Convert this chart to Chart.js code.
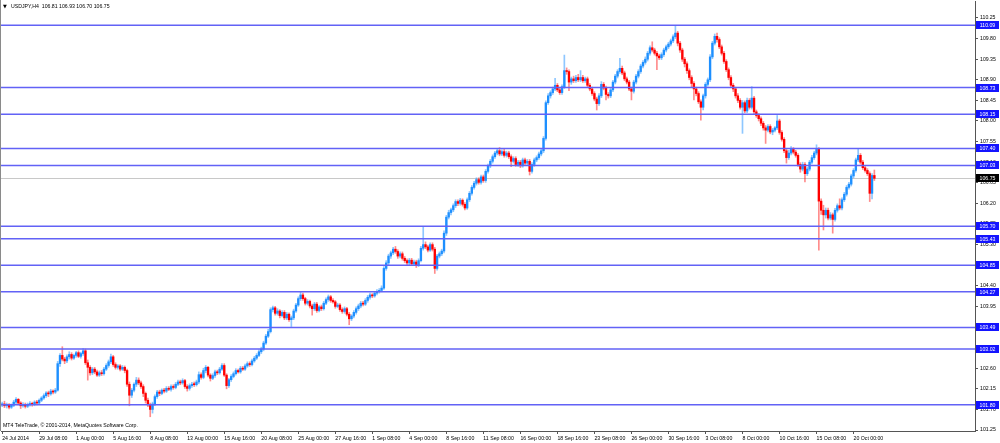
<!DOCTYPE html>
<html lang="en">
<head>
  <meta charset="UTF-8">
  <title>USDJPY,H4</title>
  <script src="https://cdn.jsdelivr.net/npm/chart.js"></script>
  <style>
    body {
      margin: 0;
      padding: 0;
      background: #fff;
    }
    canvas {
      display: block;
    }
  </style>
</head>
<body>
<canvas id="priceChart" width="1000" height="443"></canvas>

<script>
  // H4 bars starting 24 Jul 2014 16:00
  var closes = [
    101.82,101.78,101.80,101.75,101.79,101.86,101.92,101.84,101.78,101.81,
    101.77,101.80,101.83,101.81,101.86,101.84,101.90,101.95,102.00,102.06,
    102.04,102.10,102.08,102.12,102.70,102.88,102.80,102.76,102.85,102.90,
    102.82,102.88,102.94,102.86,102.92,102.98,102.72,102.62,102.50,102.58,
    102.52,102.45,102.50,102.48,102.58,102.66,102.74,102.85,102.68,102.62,
    102.65,102.58,102.62,102.55,102.25,102.01,102.12,102.25,102.34,102.28,
    102.20,102.05,101.90,101.80,101.70,101.82,101.98,102.08,102.05,102.12,
    102.10,102.16,102.14,102.20,102.18,102.25,102.30,102.28,102.33,102.20,
    102.16,102.22,102.25,102.24,102.30,102.46,102.40,102.55,102.62,102.45,
    102.38,102.44,102.52,102.50,102.58,102.66,102.45,102.22,102.35,102.42,
    102.48,102.55,102.52,102.60,102.58,102.65,102.70,102.68,102.76,102.82,
    102.88,102.96,103.02,103.15,103.30,103.40,103.88,103.92,103.80,103.85,
    103.75,103.82,103.70,103.78,103.66,103.70,103.85,103.98,104.12,104.20,
    104.12,104.02,104.06,103.96,103.90,104.00,103.86,103.94,103.90,104.02,
    104.10,104.16,104.08,104.05,103.95,103.98,103.88,103.84,103.90,103.78,
    103.68,103.74,103.82,103.90,103.96,104.02,104.00,104.08,104.15,104.20,
    104.18,104.24,104.28,104.30,104.35,104.78,104.90,105.05,105.12,105.20,
    105.15,105.05,105.10,105.00,104.95,104.90,104.96,104.88,104.92,104.85,
    104.95,105.22,105.30,105.25,105.18,105.30,105.20,104.78,105.05,105.10,
    105.16,105.55,105.90,106.00,106.06,106.15,106.24,106.20,106.27,106.18,
    106.10,106.28,106.42,106.55,106.64,106.72,106.66,106.78,106.70,106.90,
    107.02,107.12,107.22,107.30,107.35,107.28,107.33,107.25,107.30,107.22,
    107.12,107.18,107.05,107.10,107.02,107.15,107.08,107.12,106.90,107.05,
    107.15,107.20,107.28,107.35,107.62,108.40,108.55,108.62,108.70,108.78,
    108.68,108.62,108.75,109.10,109.08,108.85,108.92,108.88,108.95,108.90,
    108.95,108.88,108.92,108.78,108.70,108.60,108.48,108.38,108.55,108.80,
    108.72,108.58,108.55,108.68,108.85,108.98,109.08,109.15,109.05,108.92,
    108.85,108.70,108.65,108.85,108.98,109.08,109.20,109.28,109.35,109.48,
    109.60,109.55,109.48,109.42,109.38,109.45,109.55,109.62,109.68,109.75,
    109.84,109.92,109.70,109.55,109.35,109.25,109.10,108.95,108.82,108.70,
    108.60,108.42,108.30,108.55,108.80,108.90,109.40,109.70,109.85,109.78,
    109.62,109.48,109.30,109.12,108.95,108.78,108.70,108.55,108.45,108.30,
    108.40,108.22,108.45,108.30,108.50,108.20,108.12,108.05,107.95,107.85,
    107.80,107.88,107.76,107.80,107.85,108.00,107.75,107.60,107.35,107.20,
    107.30,107.38,107.32,107.25,107.05,106.95,107.05,106.85,106.95,107.10,
    107.20,107.30,107.38,106.25,106.05,105.95,106.05,105.88,105.95,105.85,
    106.05,106.15,106.10,106.28,106.40,106.55,106.62,106.80,106.92,107.15,
    107.25,107.10,106.98,106.92,106.85,106.42,106.81,106.75
  ];

  var highs = [
    101.86,101.88,101.84,101.83,101.82,101.90,101.96,101.94,101.87,101.85,
    101.84,101.84,101.87,101.86,101.89,101.90,101.93,101.98,102.04,102.09,
    102.10,102.14,102.13,102.16,102.75,102.92,103.07,102.84,102.89,102.96,
    102.94,102.91,102.97,102.98,102.95,103.03,103.02,102.78,102.66,102.62,
    102.62,102.56,102.54,102.55,102.62,102.70,102.78,102.91,102.88,102.72,
    102.68,102.68,102.66,102.65,102.58,102.30,102.16,102.28,102.40,102.39,
    102.32,102.24,102.08,101.95,101.84,101.86,102.02,102.12,102.12,102.15,
    102.16,102.20,102.20,102.24,102.24,102.29,102.34,102.34,102.37,102.36,
    102.24,102.26,102.29,102.30,102.34,102.52,102.50,102.60,102.66,102.64,
    102.48,102.48,102.56,102.56,102.62,102.70,102.70,102.48,102.38,102.46,
    102.52,102.59,102.58,102.64,102.64,102.69,102.74,102.74,102.80,102.86,
    102.92,103.00,103.06,103.19,103.34,103.45,103.92,103.96,103.95,103.90,
    103.88,103.86,103.86,103.82,103.81,103.74,103.89,104.02,104.16,104.27,
    104.24,104.15,104.10,104.09,104.00,104.04,104.04,103.97,103.98,104.06,
    104.14,104.20,104.19,104.12,104.08,104.02,104.01,103.92,103.94,103.93,
    103.82,103.77,103.86,103.94,104.00,104.06,104.06,104.12,104.19,104.24,
    104.23,104.28,104.32,104.34,104.40,104.82,104.95,105.09,105.16,105.24,
    105.26,105.19,105.14,105.14,105.04,104.99,105.00,105.00,104.96,104.96,
    104.99,105.26,105.69,105.36,105.29,105.34,105.34,105.24,105.09,105.14,
    105.20,105.60,105.94,106.05,106.10,106.19,106.28,106.28,106.31,106.30,
    106.22,106.32,106.46,106.59,106.68,106.76,106.76,106.82,106.82,106.94,
    107.06,107.16,107.26,107.34,107.40,107.42,107.37,107.40,107.34,107.34,
    107.26,107.22,107.22,107.14,107.14,107.19,107.19,107.16,107.16,107.09,
    107.19,107.24,107.32,107.39,107.66,108.44,108.60,108.66,108.74,108.93,
    108.82,108.72,108.79,109.44,109.16,109.12,108.96,108.98,109.00,109.02,
    109.10,109.00,108.96,108.96,108.82,108.74,108.64,108.52,108.60,108.86,
    108.84,108.76,108.62,108.72,108.89,109.02,109.12,109.37,109.20,109.09,
    108.96,108.89,108.74,108.89,109.02,109.12,109.24,109.32,109.40,109.52,
    109.64,109.73,109.59,109.52,109.46,109.49,109.59,109.66,109.72,109.79,
    109.88,110.08,109.96,109.74,109.59,109.39,109.29,109.14,108.99,108.86,
    108.74,108.64,108.46,108.59,108.84,108.94,109.45,109.74,109.90,109.92,
    109.82,109.66,109.52,109.34,109.16,108.99,108.82,108.74,108.60,108.49,
    108.45,108.44,108.50,108.49,108.75,108.54,108.24,108.16,108.09,107.99,
    107.90,107.92,107.92,107.84,107.88,108.12,108.04,107.79,107.64,107.39,
    107.36,107.44,107.42,107.36,107.29,107.09,107.10,107.09,106.99,107.14,
    107.25,107.34,107.48,107.42,106.30,106.16,106.10,106.10,106.00,105.99,
    106.09,106.19,106.30,106.32,106.44,106.59,106.66,106.84,106.96,107.19,
    107.40,107.29,107.14,107.02,106.96,106.89,106.85,106.93
  ];

  var lows = [
    101.76,101.74,101.73,101.71,101.72,101.76,101.82,101.80,101.72,101.75,
    101.73,101.74,101.77,101.77,101.78,101.80,101.81,101.87,101.92,101.96,
    101.98,102.01,102.04,102.05,102.10,102.64,102.76,102.70,102.72,102.80,
    102.78,102.79,102.84,102.83,102.82,102.88,102.68,102.34,102.45,102.46,
    102.48,102.42,102.42,102.44,102.45,102.55,102.62,102.70,102.64,102.58,
    102.58,102.54,102.55,102.50,102.20,101.78,101.96,102.08,102.20,102.24,
    102.16,101.98,101.84,101.76,101.54,101.62,101.78,101.94,102.00,102.02,
    102.06,102.07,102.11,102.10,102.14,102.15,102.22,102.24,102.25,102.16,
    102.10,102.12,102.18,102.20,102.21,102.26,102.36,102.37,102.50,102.41,
    102.32,102.35,102.40,102.46,102.47,102.55,102.42,102.15,102.18,102.31,
    102.39,102.45,102.49,102.49,102.55,102.55,102.62,102.64,102.65,102.73,
    102.79,102.85,102.92,102.98,103.12,103.27,103.37,103.83,103.76,103.76,
    103.70,103.72,103.66,103.66,103.62,103.51,103.66,103.82,103.95,104.08,
    104.08,103.98,103.98,103.92,103.76,103.86,103.82,103.83,103.86,103.87,
    103.99,104.06,104.04,104.02,103.91,103.92,103.84,103.80,103.80,103.74,
    103.55,103.64,103.70,103.78,103.86,103.92,103.96,103.97,104.04,104.11,
    104.14,104.15,104.20,104.24,104.27,104.32,104.74,104.86,105.00,105.08,
    105.11,105.00,105.01,104.96,104.91,104.86,104.86,104.84,104.84,104.80,
    104.82,104.92,105.18,105.21,105.14,105.15,105.16,104.67,104.74,105.01,
    105.06,105.12,105.50,105.86,105.95,106.02,106.11,106.15,106.16,106.14,
    106.06,106.07,106.24,106.38,106.51,106.60,106.62,106.62,106.66,106.66,
    106.86,106.98,107.08,107.18,107.26,107.24,107.24,107.21,107.21,107.18,
    107.00,107.08,107.01,107.01,106.98,106.99,107.04,107.04,106.82,106.86,
    107.01,107.11,107.16,107.24,107.31,107.58,108.36,108.50,108.58,108.66,
    108.64,108.58,108.58,108.71,109.02,108.66,108.80,108.84,108.84,108.86,
    108.86,108.84,108.84,108.74,108.66,108.56,108.44,108.24,108.34,108.51,
    108.68,108.46,108.50,108.51,108.64,108.81,108.94,109.04,109.01,108.88,
    108.81,108.66,108.46,108.61,108.81,108.94,109.04,109.16,109.24,109.31,
    109.44,109.51,109.44,109.12,109.34,109.34,109.41,109.51,109.58,109.64,
    109.71,109.80,109.64,109.50,109.30,109.18,109.04,108.90,108.74,108.46,
    108.55,108.38,108.02,108.24,108.50,108.76,108.86,109.36,109.66,109.72,
    109.58,109.44,109.26,109.08,108.90,108.74,108.64,108.50,108.40,108.26,
    107.73,108.18,108.18,108.26,108.26,108.16,108.08,108.00,107.90,107.80,
    107.51,107.76,107.72,107.70,107.76,107.81,107.71,107.56,107.31,107.08,
    107.16,107.26,107.28,107.21,107.01,106.88,106.91,106.67,106.81,106.91,
    107.06,107.16,107.26,105.18,105.96,105.62,105.88,105.84,105.84,105.55,
    105.81,106.01,106.06,106.06,106.24,106.36,106.51,106.58,106.76,106.88,
    107.11,107.06,106.94,106.88,106.81,106.24,106.30,106.70
  ];

  var firstOpen = 101.80;

  // one time label every 16 bars
  var timeLabels = [
    '24 Jul 2014', '29 Jul 08:00', '1 Aug 00:00', '5 Aug 16:00', '8 Aug 08:00',
    '13 Aug 00:00', '15 Aug 16:00', '20 Aug 08:00', '25 Aug 00:00', '27 Aug 16:00',
    '1 Sep 08:00', '4 Sep 00:00', '8 Sep 16:00', '11 Sep 08:00', '16 Sep 00:00',
    '18 Sep 16:00', '23 Sep 08:00', '26 Sep 00:00', '30 Sep 16:00', '3 Oct 08:00',
    '8 Oct 00:00', '10 Oct 16:00', '15 Oct 08:00', '20 Oct 00:00'
  ];

  var priceTicks = [
    101.25, 101.70, 102.15, 102.60, 103.05, 103.50, 103.95, 104.40, 104.85, 105.30,
    105.75, 106.20, 106.65, 107.10, 107.55, 108.00, 108.45, 108.90, 109.35, 109.80, 110.25
  ];

  var levels = [110.09, 108.73, 108.15, 107.40, 107.03, 105.70, 105.43, 104.85, 104.27, 103.49, 103.02, 101.80];
  var lastPrice = 106.75;
  var headerText = 'USDJPY,H4  106.81 106.93 106.70 106.75';
  var footerText = 'MT4 TeleTrade, \u00a9 2001-2014, MetaQuotes Software Corp.';

  var slots = 421; // bars plus empty space on the right
  var fontFamily = '"Liberation Sans", Arial, sans-serif';
  var smallFont = '5.2px ' + fontFamily;

  // open of each H4 bar is the previous close
  var opens = closes.map(function (c, i) { return i === 0 ? firstOpen : closes[i - 1]; });
  var isUp = closes.map(function (c, i) { return c >= opens[i]; });

  var categories = [];
  for (var i = 0; i < slots; i++) {
    categories.push(i % 16 === 0 && timeLabels[i / 16] ? timeLabels[i / 16] : '');
  }

  var overlay = {
    id: 'overlay',
    beforeDatasetsDraw: function (chart) {
      var ctx = chart.ctx, area = chart.chartArea;
      var y = Math.round(chart.scales.y.getPixelForValue(lastPrice)) + 0.5;
      ctx.save();
      ctx.strokeStyle = '#c8c8c8';
      ctx.lineWidth = 1;
      ctx.beginPath();
      ctx.moveTo(area.left, y);
      ctx.lineTo(area.right, y);
      ctx.stroke();
      ctx.restore();
    },
    afterDatasetsDraw: function (chart) {
      var ctx = chart.ctx, area = chart.chartArea;
      ctx.save();
      ctx.strokeStyle = '#6262f6';
      ctx.lineWidth = 1.5;
      levels.forEach(function (lv) {
        var y = chart.scales.y.getPixelForValue(lv);
        ctx.beginPath();
        ctx.moveTo(area.left, y);
        ctx.lineTo(area.right, y);
        ctx.stroke();
      });
      ctx.restore();
    },
    afterDraw: function (chart) {
      var ctx = chart.ctx, area = chart.chartArea, yScale = chart.scales.y;
      ctx.save();
      ctx.font = smallFont;
      ctx.textAlign = 'center';
      ctx.textBaseline = 'middle';

      function box(value, bg) {
        var y = Math.round(yScale.getPixelForValue(value));
        ctx.fillStyle = bg;
        ctx.fillRect(area.right + 1, y - 4, 23, 8);
        ctx.fillStyle = '#fff';
        ctx.fillText(value.toFixed(2), area.right + 12.5, y + 0.5);
      }
      levels.forEach(function (lv) { box(lv, '#1414ff'); });
      box(lastPrice, '#000');

      // left frame
      ctx.strokeStyle = '#8a8a8a';
      ctx.lineWidth = 1;
      ctx.beginPath();
      ctx.moveTo(0.5, 0);
      ctx.lineTo(0.5, area.bottom);
      ctx.stroke();

      // header and footer text
      ctx.textAlign = 'left';
      ctx.textBaseline = 'alphabetic';
      ctx.fillStyle = '#000';
      ctx.font = '5px "DejaVu Sans", sans-serif';
      ctx.fillText('\u25bc', 3, 8);
      ctx.font = smallFont;
      ctx.fillText(headerText, 11, 8);
      ctx.fillText(footerText, 3, 427);
      ctx.restore();
    }
  };

  var ctx = document.getElementById('priceChart').getContext('2d');
  var priceChart = new Chart(ctx, {
    type: 'bar',
    data: {
      labels: categories,
      datasets: [{
        label: 'wicks',
        data: lows.map(function (l, i) {
          return [Math.min(l, opens[i], closes[i]), Math.max(highs[i], opens[i], closes[i])];
        }),
        backgroundColor: isUp.map(function (u) { return u ? 'rgba(30,144,255,0.5)' : 'rgba(255,0,0,0.45)'; }),
        barThickness: 1,
        grouped: false
      }, {
        label: 'bodies',
        data: opens.map(function (o, i) { return [o, closes[i]]; }),
        backgroundColor: isUp.map(function (u) { return u ? '#1e90ff' : '#ff0000'; }),
        barThickness: 1.7,
        minBarLength: 1,
        grouped: false
      }]
    },
    options: {
      responsive: false,
      animation: false,
      layout: { padding: { left: 1, top: 1, right: 0, bottom: 0 } },
      plugins: {
        legend: { display: false },
        tooltip: { enabled: false }
      },
      scales: {
        x: {
          type: 'category',
          offset: true,
          afterFit: function (scale) {
            scale.height = 12;
            scale.paddingLeft = 0;
            scale.paddingRight = 0;
          },
          grid: {
            offset: false,
            drawOnChartArea: false,
            tickLength: 3,
            color: function (c) { return c.tick && c.tick.label ? '#555' : 'rgba(0,0,0,0)'; }
          },
          border: { color: '#555' },
          ticks: {
            autoSkip: false,
            maxRotation: 0,
            minRotation: 0,
            align: 'start',
            padding: 1,
            color: '#000',
            font: { family: fontFamily, size: 5.2 }
          }
        },
        y: {
          type: 'linear',
          position: 'right',
          min: 101.229,
          max: 110.621,
          afterFit: function (scale) {
            scale.width = 25;
            scale.paddingTop = 0;
            scale.paddingBottom = 0;
          },
          afterBuildTicks: function (scale) {
            scale.ticks = priceTicks.map(function (v) { return { value: v }; });
          },
          grid: { drawOnChartArea: false, tickLength: 3, color: '#555' },
          border: { color: '#555' },
          ticks: {
            padding: 2,
            color: '#000',
            font: { family: fontFamily, size: 5.2 },
            callback: function (v) { return Number(v).toFixed(2); }
          }
        }
      }
    },
    plugins: [overlay]
  });
</script>
</body>
</html>
